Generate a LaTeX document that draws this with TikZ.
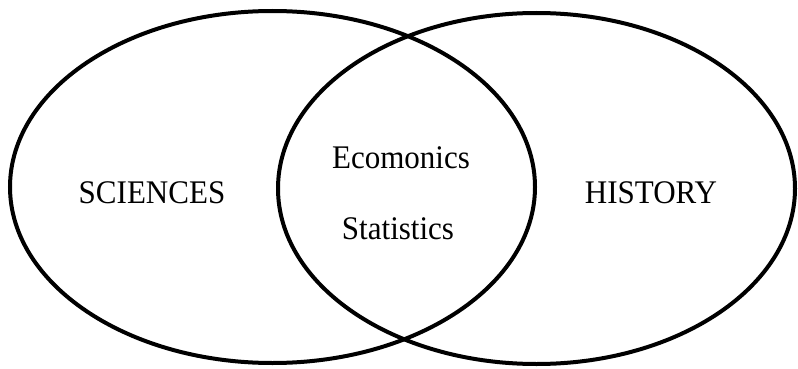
\documentclass[tikz,border=0pt]{standalone}
\usepackage{fontspec}
\newfontfamily\vennfont[FakeStretch=0.94]{Liberation Serif}
\begin{document}
\begin{tikzpicture}[x=1pt,y=-1pt,
  setline/.style={line width=4pt,black},
  lbl/.style={inner sep=0pt,anchor=base,font=\vennfont\fontsize{33}{36}\selectfont}]
\useasboundingbox (0,0) rectangle (798,369);
\draw[setline] (272.5,187) ellipse [x radius=262.5, y radius=176];
\draw[setline] (536.5,188.5) ellipse [x radius=258.5, y radius=175.5];
\node[lbl] (sci) at (152,203) {SCIENCES};
\node[lbl] (his) at (651,203) {HISTORY};
\node[lbl] (eco) at (401,168) {Ecomonics};
\node[lbl] (sta) at (398,239) {Statistics};
\end{tikzpicture}
\end{document}
